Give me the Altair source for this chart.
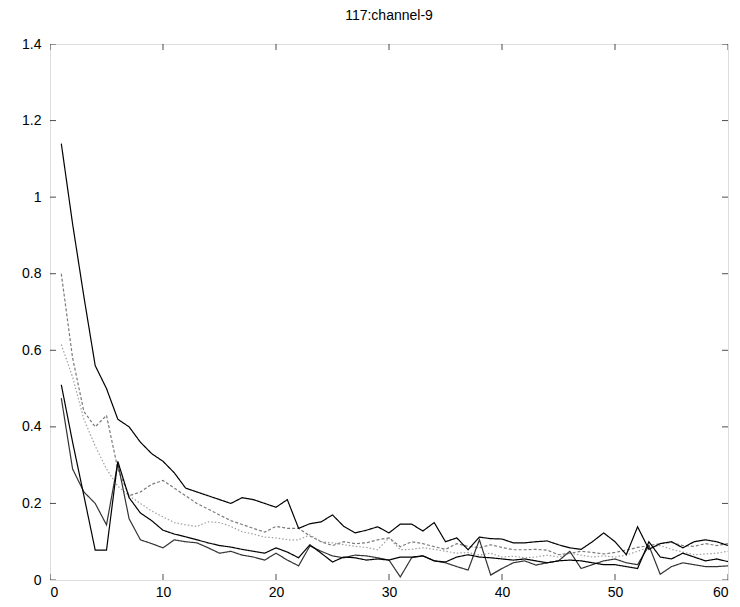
import altair as alt
import pandas as pd

x_vals = list(range(1, 61))

series_a = [1.14, 0.93, 0.74, 0.56, 0.50, 0.42, 0.40, 0.36, 0.33, 0.31,
            0.28, 0.24, 0.23, 0.22, 0.21, 0.20, 0.215, 0.21, 0.20, 0.19,
            0.21, 0.135, 0.147, 0.152, 0.17, 0.14, 0.123, 0.13, 0.139, 0.123,
            0.146, 0.146, 0.128, 0.15, 0.10, 0.11, 0.079, 0.112, 0.108, 0.107,
            0.097, 0.097, 0.10, 0.102, 0.092, 0.084, 0.08, 0.10, 0.123, 0.10,
            0.066, 0.139, 0.08, 0.095, 0.10, 0.084, 0.10, 0.105, 0.10, 0.09]

series_b = [0.80, 0.58, 0.44, 0.40, 0.43, 0.29, 0.22, 0.23, 0.25, 0.26,
            0.24, 0.22, 0.20, 0.185, 0.17, 0.155, 0.145, 0.135, 0.125, 0.14,
            0.135, 0.135, 0.115, 0.10, 0.09, 0.10, 0.095, 0.097, 0.105, 0.11,
            0.087, 0.10, 0.095, 0.087, 0.08, 0.095, 0.088, 0.084, 0.092, 0.085,
            0.079, 0.079, 0.08, 0.078, 0.066, 0.07, 0.075, 0.072, 0.068, 0.072,
            0.078, 0.085, 0.09, 0.095, 0.098, 0.09, 0.088, 0.095, 0.09, 0.095]

series_c = [0.615, 0.53, 0.42, 0.35, 0.29, 0.245, 0.22, 0.20, 0.18, 0.165,
            0.15, 0.144, 0.14, 0.152, 0.15, 0.14, 0.126, 0.12, 0.112, 0.11,
            0.105, 0.105, 0.118, 0.10, 0.097, 0.092, 0.088, 0.085, 0.079, 0.11,
            0.079, 0.08, 0.084, 0.08, 0.075, 0.07, 0.072, 0.065, 0.07, 0.06,
            0.062, 0.058, 0.06, 0.065, 0.06, 0.07, 0.065, 0.06, 0.063, 0.06,
            0.065, 0.075, 0.085, 0.09, 0.08, 0.073, 0.066, 0.068, 0.07, 0.075]

series_e = [0.51, 0.36, 0.22, 0.078, 0.078, 0.31, 0.215, 0.175, 0.155, 0.13,
            0.12, 0.113, 0.105, 0.097, 0.09, 0.086, 0.08, 0.075, 0.07, 0.084,
            0.073, 0.058, 0.092, 0.07, 0.047, 0.06, 0.058, 0.052, 0.055, 0.052,
            0.06, 0.06, 0.063, 0.05, 0.047, 0.06, 0.066, 0.06, 0.058, 0.055,
            0.052, 0.055, 0.05, 0.045, 0.05, 0.052, 0.05, 0.045, 0.04, 0.04,
            0.035, 0.03, 0.10, 0.06, 0.055, 0.07, 0.06, 0.05, 0.055, 0.048]

series_f = [0.475, 0.29, 0.23, 0.20, 0.144, 0.306, 0.16, 0.105, 0.095, 0.084,
            0.105, 0.10, 0.097, 0.084, 0.07, 0.075, 0.065, 0.06, 0.052, 0.07,
            0.052, 0.037, 0.089, 0.075, 0.063, 0.058, 0.065, 0.063, 0.058, 0.052,
            0.008, 0.058, 0.063, 0.05, 0.045, 0.035, 0.026, 0.105, 0.013, 0.03,
            0.045, 0.05, 0.039, 0.045, 0.05, 0.075, 0.03, 0.04, 0.05, 0.055,
            0.045, 0.04, 0.09, 0.015, 0.035, 0.045, 0.04, 0.035, 0.035, 0.037]

series_names = ["B", "C", "F", "E", "A"]
series_values = [series_b, series_c, series_f, series_e, series_a]
series_colors = ["#7a7a7a", "#a0a0a0", "#333333", "#000000", "#000000"]
series_dash = [[3, 2], [1.5, 2], [1, 0], [1, 0], [1, 0]]
series_width = [1.2, 1.2, 1.2, 2.0, 2.0]

x_ticks = [0, 10, 20, 30, 40, 50, 60]
y_ticks = [0, 0.2, 0.4, 0.6, 0.8, 1.0, 1.2, 1.4]

rows = []
for name, vals in zip(series_names, series_values):
    for i, (xv, yv) in enumerate(zip(x_vals, vals)):
        rows.append({"series": name, "x": xv, "y": yv, "order": i})
df = pd.DataFrame(rows)

W, H = 678, 536
FONT = "Liberation Sans"

xscale = alt.Scale(domain=[0, 60], nice=False, zero=False)
yscale = alt.Scale(domain=[0, 1.4], nice=False, zero=False)

lines = alt.Chart(df).mark_line(clip=True).encode(
    x=alt.X("x:Q", scale=xscale,
            axis=alt.Axis(values=x_ticks, title=None, ticks=False, grid=False,
                          labelFontSize=14, labelFont=FONT, labelColor="#000",
                          labelPadding=5, domain=False)),
    y=alt.Y("y:Q", scale=yscale,
            axis=alt.Axis(values=y_ticks, title=None, ticks=False, grid=False,
                          labelFontSize=14, labelFont=FONT, labelColor="#000",
                          labelPadding=9, domain=False,
                          labelExpr="format(datum.value, '~g')")),
    color=alt.Color("series:N", scale=alt.Scale(domain=series_names, range=series_colors), legend=None),
    strokeDash=alt.StrokeDash("series:N", scale=alt.Scale(domain=series_names, range=series_dash), legend=None),
    strokeWidth=alt.StrokeWidth("series:N", scale=alt.Scale(domain=series_names, range=series_width), legend=None),
    detail="series:N",
    order="order:Q",
)

xt_df = pd.DataFrame({"t": x_ticks})
yt_df = pd.DataFrame({"t": y_ticks})

xt_bottom = alt.Chart(xt_df).mark_tick(orient="vertical", clip=True, size=12, thickness=1, color="#000").encode(
    x=alt.X("t:Q", scale=xscale), y=alt.datum(0, scale=yscale))
xt_top = alt.Chart(xt_df).mark_tick(orient="vertical", clip=True, size=12, thickness=1, color="#000").encode(
    x=alt.X("t:Q", scale=xscale), y=alt.datum(1.4, scale=yscale))
yt_left = alt.Chart(yt_df).mark_tick(orient="horizontal", clip=True, size=12, thickness=1, color="#000").encode(
    y=alt.Y("t:Q", scale=yscale), x=alt.datum(0, scale=xscale))
yt_right = alt.Chart(yt_df).mark_tick(orient="horizontal", clip=True, size=12, thickness=1, color="#000").encode(
    y=alt.Y("t:Q", scale=yscale), x=alt.datum(60, scale=xscale))

chart = alt.layer(lines, xt_bottom, xt_top, yt_left, yt_right).properties(
    width=W, height=H,
    title=alt.TitleParams("117:channel-9", fontSize=14, font=FONT, fontWeight="normal",
                          color="#000", offset=14),
    autosize=alt.AutoSizeParams(type="none"),
    padding={"left": 42, "top": 36, "right": 4, "bottom": 19},
).configure_view(stroke="#000", strokeWidth=1.2).configure(background="#ffffff")

chart.save("out.html", embed_options={"renderer": "svg", "actions": False})
